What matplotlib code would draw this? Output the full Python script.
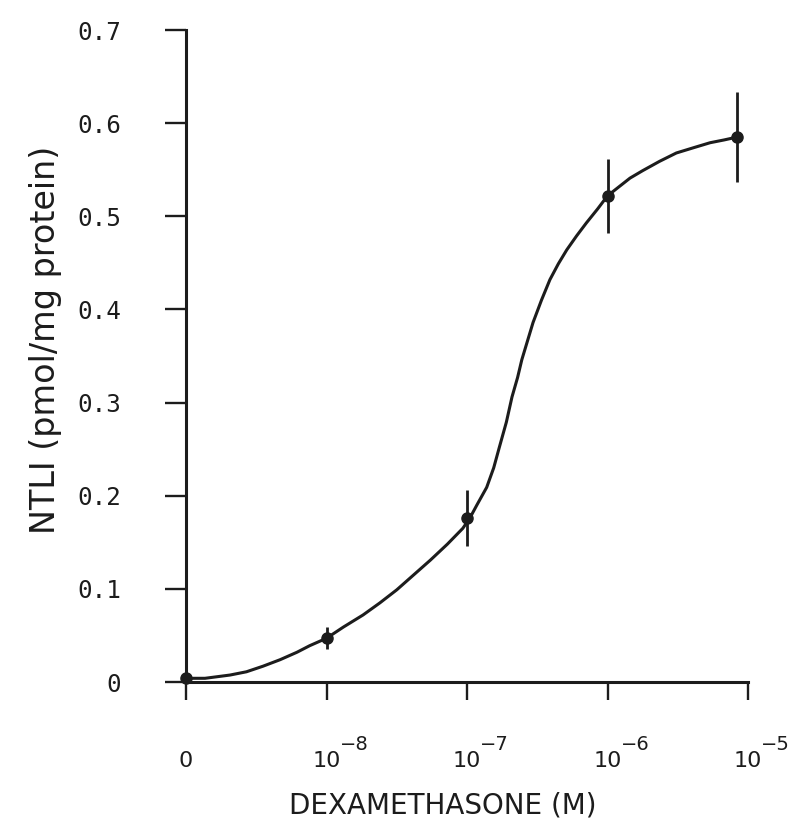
import numpy as np
import matplotlib
matplotlib.use('Agg')
import matplotlib.pyplot as plt

# dose positions on a decade axis: 0 -> no dexamethasone, 1 -> 1e-8 M, ... 4 -> 1e-5 M
dose_pos = [0, 1, 2, 3, 3.92]
ntli = [0.004, 0.047, 0.176, 0.522, 0.585]
ntli_err = [0, 0.012, 0.03, 0.04, 0.048]

# hand-drawn fitted curve
curve_x = [0, 0.135, 0.313, 0.43, 0.548, 0.67, 0.79, 0.88, 1.0, 1.12, 1.26, 1.38, 1.50,
           1.62, 1.74, 1.86, 1.97, 2.02, 2.07, 2.14, 2.19, 2.23, 2.28, 2.32, 2.36, 2.39,
           2.43, 2.47, 2.53, 2.59, 2.65, 2.71, 2.78, 2.85, 2.93, 3.0, 3.16, 3.25, 3.37,
           3.49, 3.62, 3.73, 3.83, 3.92]
curve_y = [0.004, 0.004, 0.0075, 0.011, 0.017, 0.024, 0.032, 0.039, 0.047, 0.059, 0.072,
           0.085, 0.099, 0.115, 0.131, 0.148, 0.165, 0.176, 0.190, 0.209, 0.230, 0.252,
           0.279, 0.306, 0.327, 0.346, 0.366, 0.386, 0.410, 0.432, 0.449, 0.464, 0.479,
           0.493, 0.508, 0.522, 0.541, 0.549, 0.559, 0.568, 0.574, 0.579, 0.582, 0.585]

xtick_pos = [0, 1, 2, 3, 4]
xtick_base = ['0', '10', '10', '10', '10']
xtick_exp = ['', '\u22128', '\u22127', '\u22126', '\u22125']
ytick_pos = [0, 0.1, 0.2, 0.3, 0.4, 0.5, 0.6, 0.7]
ytick_lab = ['0', '0.1', '0.2', '0.3', '0.4', '0.5', '0.6', '0.7']

ink = '#1c1c1c'

fig = plt.figure(figsize=(8.05, 8.25), dpi=100)
ax = fig.add_axes([0.2311, 0.1733, 0.6981, 0.7903])

ax.plot(curve_x, curve_y, color=ink, lw=2.2, solid_capstyle='round', solid_joinstyle='round')
ax.errorbar(dose_pos, ntli, yerr=ntli_err, fmt='o', color=ink, ms=8,
            elinewidth=2.0, capsize=0, clip_on=False, zorder=3)

ax.set_xlim(0, 4)
ax.set_ylim(0, 0.7)

for side in ['top', 'right']:
    ax.spines[side].set_visible(False)
for side in ['left', 'bottom']:
    ax.spines[side].set_linewidth(2.2)
    ax.spines[side].set_color(ink)

ax.set_yticks(ytick_pos)
ax.set_yticklabels(ytick_lab, family='DejaVu Sans Mono', fontsize=17.5, color=ink)
ax.tick_params(axis='y', length=15, width=1.7, pad=32, color=ink)

# x tick labels: "10" centred on the tick, exponent set as a separate raised text
ax.set_xticks(xtick_pos)
ax.set_xticklabels(xtick_base, fontsize=16, color=ink)
ax.tick_params(axis='x', length=13, width=1.7, pad=48, color=ink)
for lab in ax.get_xticklabels():
    lab.set_va('baseline')
for pos, ex in zip(xtick_pos, xtick_exp):
    if ex:
        ax.annotate(ex, xy=(pos, 0), xycoords=('data', 'axes fraction'),
                    xytext=(9.5, -49), textcoords='offset points',
                    ha='left', va='baseline', fontsize=14, color=ink,
                    annotation_clip=False)

ax.set_xlabel('DEXAMETHASONE (M)', fontsize=20, color=ink)
ax.xaxis.set_label_coords(0.457, -0.168)
ax.set_ylabel('NTLI (pmol/mg protein)', fontsize=24, color=ink)
ax.yaxis.set_label_coords(-0.22, 0.525)

fig.savefig('out.png', dpi=100)
